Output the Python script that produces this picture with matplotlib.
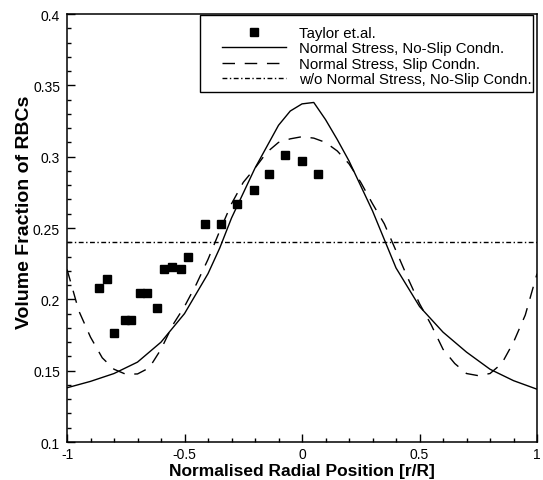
import matplotlib
matplotlib.use("Agg")
import matplotlib.pyplot as plt
from matplotlib.ticker import MultipleLocator
from matplotlib.patches import Rectangle

plt.rcParams['font.family'] = ['Liberation Sans', 'DejaVu Sans']

# Taylor et al. experimental points
taylor_x = [-0.863, -0.830, -0.799, -0.753, -0.729, -0.689, -0.658, -0.617, -0.587,
            -0.553, -0.515, -0.484, -0.414, -0.346, -0.277, -0.203, -0.140, -0.072,
            0.000, 0.069]
taylor_y = [0.2077, 0.2144, 0.1762, 0.1853, 0.1853, 0.2047, 0.2042, 0.1942, 0.2212,
            0.2224, 0.2212, 0.2296, 0.2525, 0.2525, 0.2666, 0.2766, 0.2878, 0.3010,
            0.2967, 0.2878]

# Normal stress, no-slip
ns_x = [-1.0, -0.9, -0.8, -0.7, -0.6, -0.5, -0.4, -0.35, -0.3, -0.2, -0.1, -0.05,
        0.0, 0.05, 0.1, 0.15, 0.2, 0.3, 0.4, 0.5, 0.6, 0.7, 0.8, 0.9, 1.0]
ns_y = [0.138, 0.1425, 0.148, 0.156, 0.170, 0.190, 0.218, 0.236, 0.257, 0.292, 0.322,
        0.332, 0.337, 0.338, 0.326, 0.312, 0.297, 0.262, 0.222, 0.195, 0.177, 0.163,
        0.151, 0.143, 0.137]

# Normal stress, slip
sl_x = [-1.0, -0.98, -0.95, -0.9, -0.85, -0.8, -0.75, -0.7, -0.65, -0.6, -0.55, -0.5,
        -0.45, -0.4, -0.35, -0.3, -0.25, -0.2, -0.15, -0.1, -0.05, 0.0, 0.05, 0.1,
        0.15, 0.2, 0.25, 0.3, 0.35, 0.4, 0.45, 0.5, 0.55, 0.6, 0.65, 0.7, 0.75, 0.8,
        0.85, 0.9, 0.95, 1.0]
sl_y = [0.221, 0.2095, 0.192, 0.1735, 0.159, 0.151, 0.1475, 0.1477, 0.152, 0.165, 0.182,
        0.195, 0.2105, 0.228, 0.248, 0.267, 0.282, 0.292, 0.303, 0.310, 0.3125, 0.314,
        0.313, 0.310, 0.304, 0.295, 0.282, 0.267, 0.253, 0.234, 0.215, 0.197, 0.182,
        0.165, 0.155, 0.148, 0.1465, 0.148, 0.155, 0.170, 0.189, 0.218]

# w/o normal stress, no-slip
wo_x = [-1.0, 1.0]
wo_y = [0.24, 0.24]

fig = plt.figure(figsize=(5.43, 4.81), dpi=100)
ax = fig.add_axes([0.1234, 0.079, 0.8656, 0.8898])

ax.plot(taylor_x, taylor_y, 's', color='black', markersize=6, label='Taylor et.al.')
ax.plot(ns_x, ns_y, '-', color='black', lw=1.0, label='Normal Stress, No-Slip Condn.')
ax.plot(sl_x, sl_y, color='black', lw=1.0, dashes=(9, 7), label='Normal Stress, Slip Condn.')
ax.plot(wo_x, wo_y, color='black', lw=1.0, dashes=(3.5, 1.8, 1, 1.8),
        label='w/o Normal Stress, No-Slip Condn.')

ax.set_xlim(-1, 1)
ax.set_ylim(0.1, 0.4)
ax.xaxis.set_minor_locator(MultipleLocator(0.1))
ax.yaxis.set_minor_locator(MultipleLocator(0.01))
ax.set_xticks([-1, -0.5, 0, 0.5, 1])
ax.set_xticklabels(['-1', '-0.5', '0', '0.5', '1'])
ax.set_yticks([0.1, 0.15, 0.2, 0.25, 0.3, 0.35, 0.4])
ax.set_yticklabels(['0.1', '0.15', '0.2', '0.25', '0.3', '0.35', '0.4'])
ax.tick_params(which='both', direction='in', top=False, right=False, labelsize=10)
ax.tick_params(which='major', length=6, width=1, pad=5)
ax.tick_params(axis='x', which='major', pad=3.5)
ax.tick_params(which='minor', length=3.2, width=1)
for s in ax.spines.values():
    s.set_linewidth(1.1)

ax.set_xlabel('Normalised Radial Position [r/R]', fontsize=12.5, fontweight='bold')
ax.xaxis.set_label_coords(0.5, -0.05)
ax.set_ylabel('Volume Fraction of RBCs', fontsize=14, fontweight='bold')
ax.yaxis.set_label_coords(-0.072, 0.54)

# legend box (Tecplot style: wide left margin)
ax.add_patch(Rectangle((0.283, 0.818), 0.7085, 0.18, transform=ax.transAxes,
                       facecolor='white', edgecolor='black', lw=1.0, zorder=4))
leg = ax.legend(loc='upper right', bbox_to_anchor=(0.989, 0.972), borderaxespad=0,
                borderpad=0, fontsize=10.8, handlelength=4.3, handletextpad=0.85,
                labelspacing=0.1, frameon=False)
leg.set_zorder(5)

fig.savefig('out.png', dpi=100)
